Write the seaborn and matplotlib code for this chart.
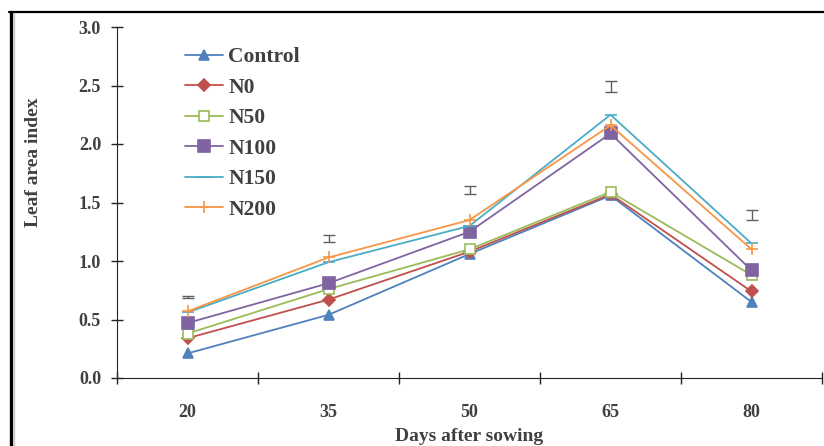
import numpy as np
import pandas as pd
import matplotlib
matplotlib.use("Agg")
import matplotlib.pyplot as plt
import seaborn as sns
from matplotlib.lines import Line2D

sns.set_style("ticks")
plt.rcParams['font.family'] = ['Liberation Serif', 'DejaVu Serif']

# -----------------------------
# Data
# -----------------------------
days = [20, 35, 50, 65, 80]
control = [0.21, 0.54, 1.06, 1.56, 0.65]
n0 = [0.34, 0.67, 1.08, 1.57, 0.74]
n50 = [0.38, 0.76, 1.10, 1.59, 0.88]
n100 = [0.47, 0.81, 1.25, 2.09, 0.92]
n150 = [0.56, 0.99, 1.30, 2.25, 1.15]
n200 = [0.57, 1.03, 1.35, 2.16, 1.10]
series_names = ["Control", "N0", "N50", "N100", "N150", "N200"]
series_values = [control, n0, n50, n100, n150, n200]

# LSD bars drawn above each sampling date
lsd_center = [0.69, 1.19, 1.61, 2.49, 1.39]
lsd_half = [0.01, 0.03, 0.034, 0.047, 0.043]

# -----------------------------
# Styles
# -----------------------------
colors = ["#4F81BD", "#C0504D", "#9BBB59", "#8064A2", "#4BACC6", "#F79646"]
markers = ["^", "D", "s", "s", "_", "+"]
marker_sizes = [7, 6, 7, 8, 9, 9]
face_colors = ["#4F81BD", "#C0504D", "white", "#8064A2", "#4BACC6", "#F79646"]
text_color = "#404040"

fig = plt.figure(figsize=(8.24, 4.46), dpi=100)
ax = fig.add_axes([117 / 824, 1 - 378 / 446, 705 / 824, 351 / 446])

for name, vals, c, m, ms, fc in zip(series_names, series_values, colors, markers, marker_sizes, face_colors):
    sns.lineplot(x=days, y=vals, ax=ax, color=c, marker=m, markersize=ms,
                 markerfacecolor=fc, markeredgecolor=c, markeredgewidth=1.2,
                 linewidth=1.3, label=name)

ax.errorbar(days, lsd_center, yerr=lsd_half, fmt="none", ecolor="#606060",
            elinewidth=1.0, capsize=4, capthick=1.0)

# axes
ax.set_xlim(12.5, 87.5)
ax.set_ylim(0, 3.0)
ax.set_xticks(np.arange(12.5, 88, 15))
ax.set_xticklabels([])
ax.set_xticks(days, minor=True)
ax.set_xticklabels([str(d) for d in days], minor=True)
ax.set_yticks(np.arange(0, 3.01, 0.5))
ax.set_yticklabels([f"{v:.1f}" for v in np.arange(0, 3.01, 0.5)])
ax.tick_params(axis="x", which="major", direction="inout", length=9, width=1, color="#222222")
ax.tick_params(axis="x", which="minor", length=0, pad=19, labelsize=13, labelcolor=text_color)
ax.tick_params(axis="y", direction="inout", length=9, width=1, color="#222222",
               pad=7, labelsize=13, labelcolor=text_color)
for lab in ax.get_xticklabels(minor=True) + ax.get_yticklabels():
    lab.set_fontweight("bold")

sns.despine(ax=ax)
ax.spines["left"].set_color("#222222")
ax.spines["bottom"].set_color("#222222")

ax.set_xlabel("Days after sowing", fontsize=14, fontweight="bold", color=text_color)
ax.set_ylabel("Leaf area index", fontsize=14, fontweight="bold", color=text_color)
ax.xaxis.set_label_coords(0.5, -0.143)
ax.yaxis.set_label_coords(-0.107, 0.615)

leg = ax.legend(loc="upper left", bbox_to_anchor=(0.069, 0.997), frameon=False,
                handlelength=1.75, handletextpad=0.25, labelspacing=0.48,
                prop={"size": 15.5, "weight": "bold"})
for t in leg.get_texts():
    t.set_color(text_color)

# black border of the original figure box
fig.add_artist(Line2D([10.5 / 824, 10.5 / 824], [0, 1 - 12 / 446], transform=fig.transFigure,
                      color="black", linewidth=2.4))
fig.add_artist(Line2D([9 / 824, 1], [1 - 12 / 446, 1 - 12 / 446], transform=fig.transFigure,
                      color="black", linewidth=1.6))
fig.add_artist(Line2D([13.5 / 824, 13.5 / 824], [0, 1 - 13 / 446], transform=fig.transFigure,
                      color="#C8C8C8", linewidth=1.0))

fig.savefig("out.png", dpi=100)
